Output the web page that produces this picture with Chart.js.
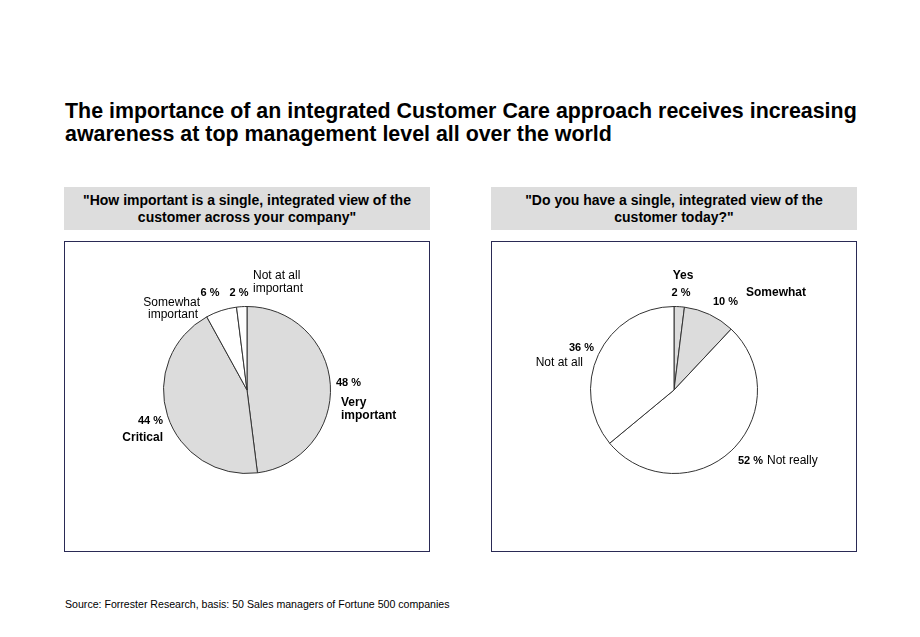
<!DOCTYPE html>
<html>
<head>
<meta charset="utf-8">
<script src="https://cdn.jsdelivr.net/npm/chart.js@4"></script>
<style>
  body { margin: 0; width: 920px; height: 637px; background: #fff; position: relative; font-family: "Liberation Sans", Arial, sans-serif; color: #000; }
  #title { position: absolute; left: 65px; top: 100px; font-size: 21.4px; font-weight: bold; line-height: 23px; white-space: nowrap; }
  .head { position: absolute; top: 187px; width: 366px; height: 43px; background: #dddddd; font-size: 14px; font-weight: bold; text-align: center; line-height: 17px; box-sizing: border-box; padding-top: 5px; }
  .box { position: absolute; top: 241px; width: 366px; height: 311px; border: 1px solid #2a2a55; box-sizing: border-box; }
  .box canvas { position: absolute; left: -1px; top: -1px; }
  #source { position: absolute; left: 65px; top: 598px; font-size: 10.6px; }
</style>
</head>
<body>
<div id="title">The importance of an integrated Customer Care approach receives increasing<br>awareness at top management level all over the world</div>

<div class="head" style="left:64px">"How important is a single, integrated view of the<br>customer across your company"</div>
<div class="head" style="left:491px">"Do you have a single, integrated view of the<br>customer today?"</div>

<div class="box" style="left:64px"><canvas id="leftChart"></canvas></div>
<div class="box" style="left:491px"><canvas id="rightChart"></canvas></div>

<div id="source">Source: Forrester Research, basis: 50 Sales managers of Fortune 500 companies</div>

<script>
// data
const leftLabels = ['Very important', 'Critical', 'Somewhat important', 'Not at all important'];
const leftValues = [48, 44, 6, 2];
const rightLabels = ['Yes', 'Somewhat', 'Not really', 'Not at all'];
const rightValues = [2, 10, 52, 36];

const grey = '#dcdcdc';
const sliceColors = [grey, grey, '#ffffff', '#ffffff'];

// label placement, offsets from pie centre
const leftLayout = [
  { pct: [89, -7, 'left'], name: [94, 13, 'left'], brk: 1, bold: true },
  { pct: [-84, 31, 'right'], name: [-84, 48, 'right'], brk: 0, bold: true },
  { pct: [-37, -97, 'center'], name: [-47, -87, 'right'], name2: [-74, -75, 'center'], brk: 1, bold: false },
  { pct: [-8, -97, 'center'], name: [6, -114, 'left'], brk: 3, bold: false }
];
const rightLayout = [
  { pct: [7, -97, 'center'], name: [9, -114, 'center'], brk: 0, bold: true },
  { pct: [39, -88, 'left'], name: [72, -97, 'left'], brk: 0, bold: true },
  { pct: [64, 71, 'left'], name: [93, 71, 'left'], brk: 0, bold: false },
  { pct: [-80, -42, 'right'], name: [-91, -27, 'right'], brk: 0, bold: false }
];

const sliceLabels = {
  id: 'sliceLabels',
  afterDatasetsDraw(chart, args, opts) {
    const ctx = chart.ctx;
    const arc = chart.getDatasetMeta(0).data[0];
    const cx = arc.x, cy = arc.y;
    const vals = chart.data.datasets[0].data;
    const names = chart.data.labels;
    ctx.save();
    ctx.fillStyle = '#000';
    ctx.textBaseline = 'middle';
    opts.layout.forEach((l, i) => {
      ctx.font = 'bold 11px "Liberation Sans", Arial';
      ctx.textAlign = l.pct[2];
      ctx.fillText(vals[i] + ' %', cx + l.pct[0], cy + l.pct[1]);
      ctx.font = (l.bold ? 'bold ' : '') + '12px "Liberation Sans", Arial';
      const words = names[i].split(' ');
      let lines = [names[i]];
      if (l.brk > 0) lines = [words.slice(0, l.brk).join(' '), words.slice(l.brk).join(' ')];
      ctx.textAlign = l.name[2];
      ctx.fillText(lines[0], cx + l.name[0], cy + l.name[1]);
      if (lines[1]) {
        const p2 = l.name2 || [l.name[0], l.name[1] + 13, l.name[2]];
        ctx.textAlign = p2[2];
        ctx.fillText(lines[1], cx + p2[0], cy + p2[1]);
      }
    });
    ctx.restore();
  }
};

function makePie(id, labels, values, layout) {
  const canvas = document.getElementById(id);
  canvas.width = 366;
  canvas.height = 311;
  canvas.style.width = '366px';
  canvas.style.height = '311px';
  return new Chart(canvas, {
    type: 'pie',
    data: {
      labels: labels,
      datasets: [{
        data: values,
        backgroundColor: sliceColors,
        borderColor: '#333',
        borderWidth: 1
      }]
    },
    options: {
      responsive: false,
      animation: false,
      layout: { padding: { top: 65, bottom: 78, left: 99, right: 99 } },
      plugins: {
        legend: { display: false },
        tooltip: { enabled: false },
        sliceLabels: { layout: layout }
      }
    },
    plugins: [sliceLabels]
  });
}

makePie('leftChart', leftLabels, leftValues, leftLayout);
makePie('rightChart', rightLabels, rightValues, rightLayout);
</script>
</body>
</html>
